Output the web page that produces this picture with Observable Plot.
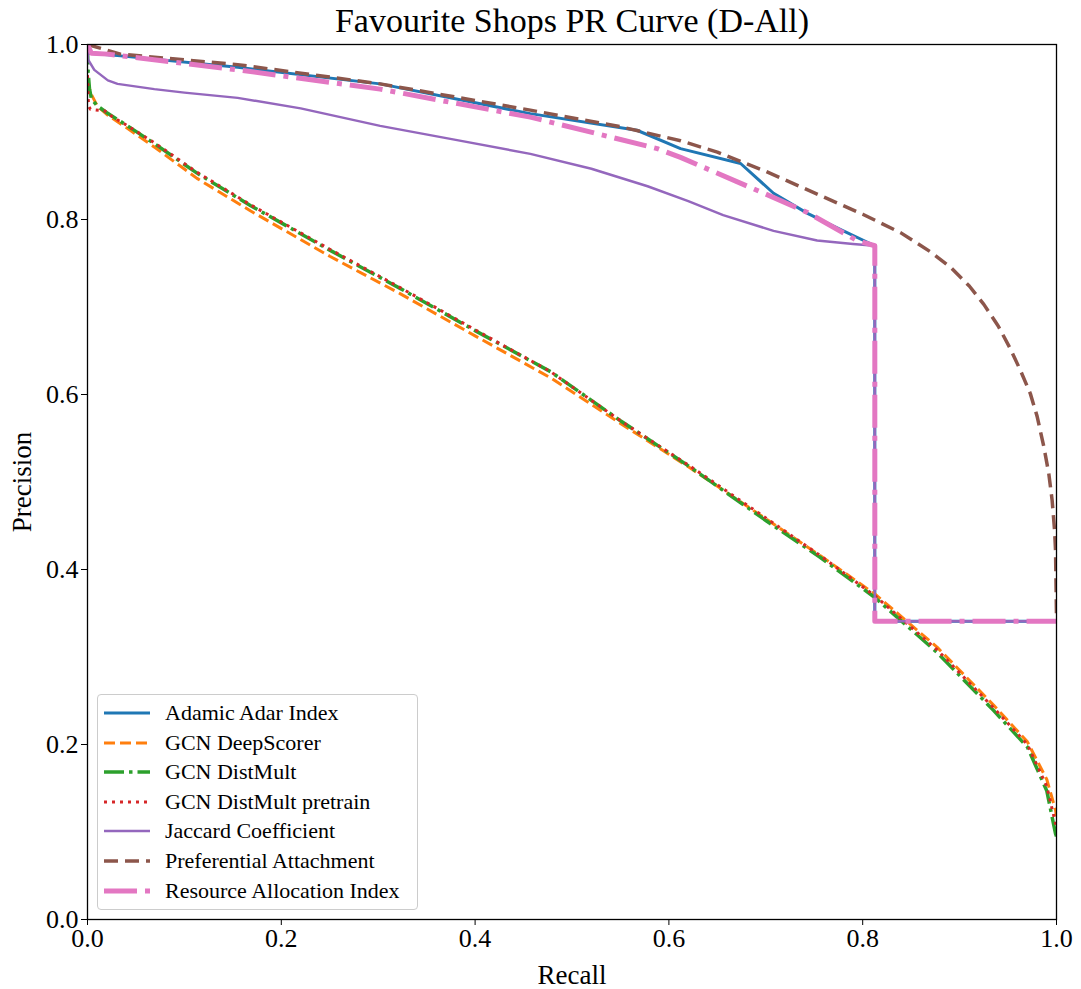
<!DOCTYPE html>
<html>
<head>
<meta charset="utf-8">
<script src="https://cdn.jsdelivr.net/npm/d3@7"></script>
<script src="https://cdn.jsdelivr.net/npm/@observablehq/plot@0.6"></script>
<style>
  html, body { margin: 0; padding: 0; background: #fff; }
  #wrap { position: relative; width: 1081px; height: 989px; }
  #legend {
    position: absolute; left: 97px; top: 694px; width: 319px; height: 214px;
    border: 1px solid #cccccc; border-radius: 4px; background: rgba(255,255,255,0.8);
    font-family: "Liberation Serif", "DejaVu Serif", serif; font-size: 22px; color: #000;
  }
  .row { position: absolute; left: 0; height: 30px; display: flex; align-items: center; white-space: nowrap; }
  .row svg { margin-left: 6px; margin-right: 15px; }
</style>
</head>
<body>
<div id="wrap"><div id="chart"></div><div id="legend"></div></div>
<script>
const title = "Favourite Shops PR Curve (D-All)";
const xLabel = "Recall";
const yLabel = "Precision";
const xTicks = [0, 0.2, 0.4, 0.6, 0.8, 1.0];
const yTicks = [0, 0.2, 0.4, 0.6, 0.8, 1.0];

const seriesNames = ["Adamic Adar Index", "GCN DeepScorer", "GCN DistMult", "GCN DistMult pretrain",
  "Jaccard Coefficient", "Preferential Attachment", "Resource Allocation Index"];
const seriesColors = ["#1f77b4", "#ff7f0e", "#2ca02c", "#d62728", "#9467bd", "#8c564b", "#e377c2"];

// [recall, precision]
const adamicAdar = [[0,1.0],[0.002,0.99],[0.034,0.987],[0.155,0.974],[0.302,0.955],[0.457,0.921],
  [0.567,0.902],[0.612,0.881],[0.674,0.864],[0.708,0.83],[0.743,0.807],[0.78,0.787],[0.8125,0.77],
  [0.8125,0.341],[1.0,0.341]];
const gcnDeepScorer = [[0,0.96],[0.003,0.945],[0.01,0.93],[0.02,0.92],[0.04,0.905],[0.07,0.882],
  [0.113,0.847],[0.168,0.81],[0.25,0.758],[0.323,0.715],[0.4,0.667],[0.478,0.619],[0.55,0.567],
  [0.622,0.516],[0.7,0.458],[0.756,0.416],[0.8125,0.372],[0.877,0.311],[0.935,0.245],[0.97,0.203],
  [0.99,0.16],[0.999,0.125],[1.0,0.118]];
const gcnDistMult = [[0,1.0],[0.0005,0.97],[0.002,0.95],[0.004,0.938],[0.01,0.93],[0.02,0.922],
  [0.04,0.908],[0.07,0.886],[0.113,0.853],[0.168,0.816],[0.25,0.765],[0.323,0.721],[0.4,0.673],
  [0.478,0.626],[0.55,0.57],[0.622,0.517],[0.7,0.456],[0.756,0.414],[0.8125,0.368],[0.877,0.305],
  [0.935,0.239],[0.97,0.197],[0.99,0.147],[0.999,0.098],[1.0,0.095]];
const gcnDistMultPretrain = [[0,0.965],[0.001,0.93],[0.003,0.926],[0.018,0.924],[0.026,0.917],
  [0.04,0.908],[0.07,0.887],[0.113,0.854],[0.168,0.817],[0.25,0.766],[0.323,0.722],[0.4,0.674],
  [0.478,0.626],[0.55,0.57],[0.622,0.518],[0.7,0.459],[0.756,0.416],[0.8125,0.37],[0.877,0.308],
  [0.935,0.242],[0.97,0.2],[0.99,0.152],[0.999,0.11],[1.0,0.105]];
const jaccard = [[0,1.0],[0.0005,0.983],[0.007,0.971],[0.021,0.959],[0.031,0.955],[0.069,0.949],
  [0.1,0.945],[0.155,0.939],[0.22,0.927],[0.302,0.907],[0.38,0.891],[0.457,0.875],[0.52,0.858],
  [0.578,0.838],[0.62,0.821],[0.656,0.805],[0.708,0.787],[0.753,0.776],[0.79,0.772],
  [0.8125,0.77],[0.8125,0.341],[1.0,0.341]];
const prefAttachment = [[0,1.0],[0.034,0.989],[0.155,0.977],[0.302,0.955],[0.457,0.925],[0.55,0.906],
  [0.612,0.89],[0.65,0.877],[0.7,0.855],[0.753,0.829],[0.8,0.806],[0.839,0.785],[0.87,0.763],
  [0.891,0.745],[0.91,0.724],[0.925,0.703],[0.94,0.678],[0.9525,0.652],[0.963,0.627],[0.973,0.601],
  [0.98,0.575],[0.987,0.54],[0.992,0.51],[0.9955,0.479],[0.998,0.445],[0.999,0.422],[1.0,0.345]];
const resourceAlloc = [[0,1.0],[0.004,0.99],[0.021,0.989],[0.155,0.971],[0.302,0.949],[0.457,0.917],
  [0.588,0.881],[0.612,0.871],[0.698,0.83],[0.743,0.808],[0.794,0.776],[0.8125,0.77],
  [0.8125,0.341],[1.0,0.341]];

const seriesData = [adamicAdar, gcnDeepScorer, gcnDistMult, gcnDistMultPretrain, jaccard, prefAttachment, resourceAlloc];
const styles = [
  {w: 3, dash: null},
  {w: 3, dash: "11,5"},
  {w: 3.5, dash: "20,5,3.5,5"},
  {w: 3, dash: "3,5"},
  {w: 2.5, dash: null},
  {w: 3.5, dash: "14,7"},
  {w: 5, dash: "33,8,5,8"}
];

const font = "'Liberation Serif', 'DejaVu Serif', serif";
const marks = [];
seriesData.forEach((data, i) => {
  marks.push(Plot.line(data, {
    x: d => d[0], y: d => d[1], stroke: seriesColors[i], strokeWidth: styles[i].w,
    strokeDasharray: styles[i].dash, strokeLinecap: "butt", strokeLinejoin: "round", clip: true
  }));
});

const chart = Plot.plot({
  width: 1081, height: 989,
  marginLeft: 87, marginRight: 25, marginTop: 44, marginBottom: 70,
  style: {fontFamily: font, fontSize: "26px", color: "#000", background: "#fff", overflow: "visible"},
  x: {domain: [0, 1]},
  y: {domain: [0, 1]},
  marks: [
    ...marks,
    Plot.frame({stroke: "#000", strokeWidth: 1.3}),
    Plot.axisX(xTicks, {tickSize: 6, tickPadding: 3, tickFormat: d3.format(".1f"), fontSize: 26, label: null, stroke: "#000"}),
    Plot.axisY(yTicks, {tickSize: 6, tickPadding: 3, tickFormat: d3.format(".1f"), fontSize: 26, label: null, stroke: "#000"}),
    Plot.text([title], {frameAnchor: "top", lineAnchor: "middle", dy: -23, fontSize: 34, text: d => d, fill: "#000"}),
    Plot.text([xLabel], {frameAnchor: "bottom", lineAnchor: "middle", dy: 56, fontSize: 27, text: d => d, fill: "#000"}),
    Plot.text([yLabel], {frameAnchor: "left", lineAnchor: "middle", textAnchor: "middle", dx: -65, rotate: -90, fontSize: 27, text: d => d, fill: "#000"})
  ]
});
document.getElementById("chart").appendChild(chart);

// legend
const legend = document.getElementById("legend");
seriesNames.forEach((name, i) => {
  const row = document.createElement("div");
  row.className = "row";
  row.style.top = (3 + i * 29.6) + "px";
  const s = styles[i];
  row.innerHTML = `<svg width="46" height="10"><line x1="0" x2="46" y1="5" y2="5" stroke="${seriesColors[i]}" stroke-width="${s.w}" ${s.dash ? `stroke-dasharray="${s.dash}"` : ""} stroke-linecap="butt"/></svg><span>${name}</span>`;
  legend.appendChild(row);
});
</script>
</body>
</html>
